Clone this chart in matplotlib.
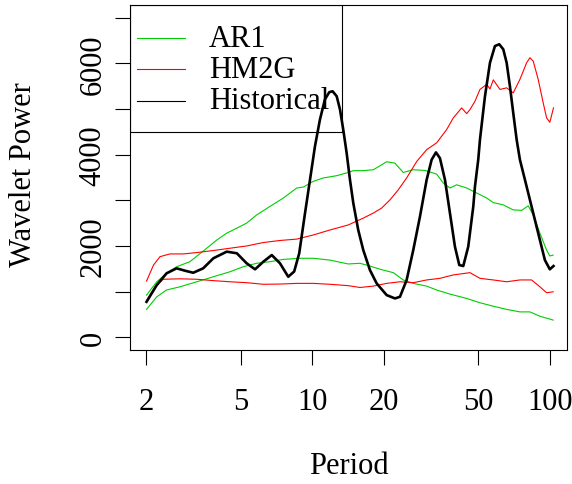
import matplotlib
matplotlib.use("Agg")
import matplotlib.pyplot as plt
from matplotlib.patches import Rectangle

plt.rcParams['font.family'] = ['Liberation Serif', 'DejaVu Serif']

# Historical wavelet power spectrum
hist_period = [2.01, 2.22, 2.44, 2.69, 2.92, 3.16, 3.48, 3.84, 4.37, 4.82,
               5.30, 5.75, 6.23, 6.76, 7.32, 7.93, 8.40, 8.82, 9.33, 9.79,
               10.27, 10.78, 11.31, 11.80, 12.19, 12.68, 13.09, 13.51, 13.96, 14.42,
               14.89, 15.62, 16.40, 17.50, 18.67, 20.57, 22.29, 23.40, 24.96, 26.62,
               28.40, 30.30, 31.80, 33.16, 34.46, 36.18, 37.97, 39.85, 41.56, 43.20,
               45.33, 47.60, 48.37, 49.94, 50.78, 53.30, 55.95, 58.70, 61.20, 63.63,
               65.75, 67.88, 70.09, 72.44, 74.77, 78.50, 82.38, 86.46, 90.74, 95.24,
               99.9, 103.5]
hist_power = [776, 1143, 1400, 1510, 1457, 1413, 1510, 1730, 1875, 1840,
              1620, 1488, 1655, 1800, 1620, 1325, 1440, 1840, 2720, 3450,
              4180, 4770, 5210, 5370, 5390, 5280, 4990, 4550, 4040, 3450,
              2940, 2350, 1910, 1470, 1180, 923, 850, 886, 1253, 1912,
              2644, 3450, 3890, 4050, 3925, 3450, 2720, 1985, 1582, 1560,
              1985, 2865, 3300, 3890, 4330, 5280, 6015, 6380, 6420, 6310,
              6015, 5500, 4915, 4330, 3890, 3450, 3010, 2570, 2130, 1690,
              1488, 1560]

# AR1 bounds
ar1_up_period = [2.01, 2.22, 2.44, 2.69, 3.06, 3.60, 3.97, 4.37, 4.82, 5.30,
                 5.84, 6.64, 7.56, 8.61, 9.17, 10.10, 11.13, 12.68, 14.18, 14.89,
                 16.40, 18.07, 20.57, 22.29, 24.15, 26.62, 29.81, 33.38, 35.58, 37.97,
                 40.52, 44.65, 49.19, 54.19, 57.77, 63.63, 70.09, 76.03, 81.03, 85.06,
                 90.74, 96.82, 99.9, 103.2]
ar1_up = [923, 1215, 1400, 1545, 1655, 1950, 2130, 2280, 2390, 2500,
          2680, 2865, 3050, 3270, 3290, 3415, 3490, 3540, 3610, 3650,
          3650, 3670, 3845, 3815, 3610, 3670, 3655, 3575, 3380, 3270,
          3340, 3270, 3160, 3050, 2950, 2900, 2790, 2780, 2880, 2680,
          2280, 1910, 1780, 1800]

ar1_lo_period = [2.01, 2.22, 2.44, 2.78, 3.27, 3.84, 4.51, 5.13, 5.84, 6.64,
                 7.56, 8.89, 10.10, 11.88, 14.18, 15.88, 17.50, 19.28, 21.93, 24.15,
                 26.62, 30.30, 33.38, 37.97, 44.65, 50.78, 57.77, 65.75, 74.77, 82.38,
                 90.74, 103.2]
ar1_lo = [610, 885, 1035, 1105, 1215, 1325, 1435, 1545, 1620, 1655,
          1705, 1730, 1730, 1690, 1605, 1620, 1560, 1490, 1415, 1255,
          1180, 1120, 1035, 945, 850, 755, 680, 610, 555, 555,
          460, 375]

# HM2G bounds
hm_up_period = [2.01, 2.15, 2.29, 2.52, 2.87, 3.27, 3.84, 4.51, 5.30, 6.23,
                7.32, 8.61, 10.10, 11.88, 14.18, 16.40, 18.07, 19.60, 21.24, 23.02,
                24.96, 27.51, 30.30, 33.38, 36.77, 39.21, 42.53, 44.65, 46.10, 48.37,
                50.78, 54.19, 55.95, 57.77, 61.63, 65.75, 70.09, 74.77, 79.79, 82.38,
                85.06, 89.26, 93.68, 96.82, 99.9, 103.5]
hm_up = [1230, 1580, 1765, 1825, 1825, 1855, 1900, 1950, 2000, 2075,
         2120, 2150, 2240, 2350, 2460, 2610, 2720, 2830, 3010, 3230,
         3490, 3850, 4110, 4260, 4550, 4805, 5025, 4900, 4990, 5170,
         5430, 5540, 5440, 5640, 5430, 5465, 5355, 5650, 6015, 6125,
         6050, 5650, 5136, 4807, 4710, 5025]

hm_lo_period = [2.01, 2.18, 2.36, 2.78, 3.27, 3.84, 4.51, 5.30, 6.23, 7.32,
                8.61, 10.10, 11.88, 14.18, 15.88, 18.07, 20.57, 23.40, 26.62, 30.30,
                34.46, 39.21, 46.10, 50.78, 57.77, 65.75, 74.77, 83.74, 90.74, 96.82,
                103.2]
hm_lo = [800, 1100, 1270, 1280, 1270, 1240, 1215, 1195, 1160, 1165,
         1180, 1180, 1160, 1130, 1090, 1120, 1180, 1215, 1195, 1255,
         1290, 1365, 1415, 1290, 1255, 1215, 1255, 1255, 1105, 975,
         995]

green = '#00CD00'
red = '#FF0000'
fs = 22

fig = plt.figure(figsize=(5.72, 4.85), dpi=100)
ax = fig.add_axes([0.2273, 0.2763, 0.7640, 0.7113])

ax.plot(ar1_up_period, ar1_up, color=green, lw=0.8)
ax.plot(ar1_lo_period, ar1_lo, color=green, lw=0.8)
ax.plot(hm_up_period, hm_up, color=red, lw=0.8)
ax.plot(hm_lo_period, hm_lo, color=red, lw=0.8)
ax.plot(hist_period, hist_power, color='black', lw=1.9,
        solid_joinstyle='round')

ax.set_xscale('log')
ax.set_xlim(1.713, 118)
ax.set_ylim(-280, 7280)

xt = [2, 5, 10, 20, 50, 100]
ax.set_xticks(xt)
ax.set_xticklabels([str(v) for v in xt])
ax.xaxis.set_minor_locator(matplotlib.ticker.NullLocator())
yt = [0, 1000, 2000, 3000, 4000, 5000, 6000, 7000]
ax.set_yticks(yt)
ax.set_yticklabels([str(v) if v % 2000 == 0 else '' for v in yt],
                   rotation=90, va='center')

ax.tick_params(axis='both', labelsize=fs, length=11, width=0.8)
ax.tick_params(axis='x', pad=16)
ax.tick_params(axis='y', pad=5)
for s in ax.spines.values():
    s.set_linewidth(0.8)

ax.set_xlabel('Period', fontsize=fs)
ax.set_ylabel('Wavelet Power', fontsize=fs)
ax.xaxis.set_label_coords(0.5, -0.336)
ax.xaxis.label.set_va('center')
ax.yaxis.set_label_coords(-0.243, 0.51)
ax.yaxis.label.set_va('center')

# legend box, top-left inside the plot
ax.add_patch(Rectangle((0, 0.632), 0.485, 0.368, transform=ax.transAxes,
                       fill=False, edgecolor='black', lw=0.8, zorder=5))
labels = ['AR1', 'HM2G', 'Historical']
colors = [green, red, 'black']
rows = [0.904, 0.814, 0.722]
for lab, col, yy in zip(labels, colors, rows):
    ax.plot([0.016, 0.126], [yy, yy], color=col, lw=0.8, transform=ax.transAxes, zorder=6)
    ax.text(0.181, yy, lab, fontsize=fs, va='center', ha='left',
            transform=ax.transAxes, zorder=6)

fig.savefig('out.png', dpi=100)
